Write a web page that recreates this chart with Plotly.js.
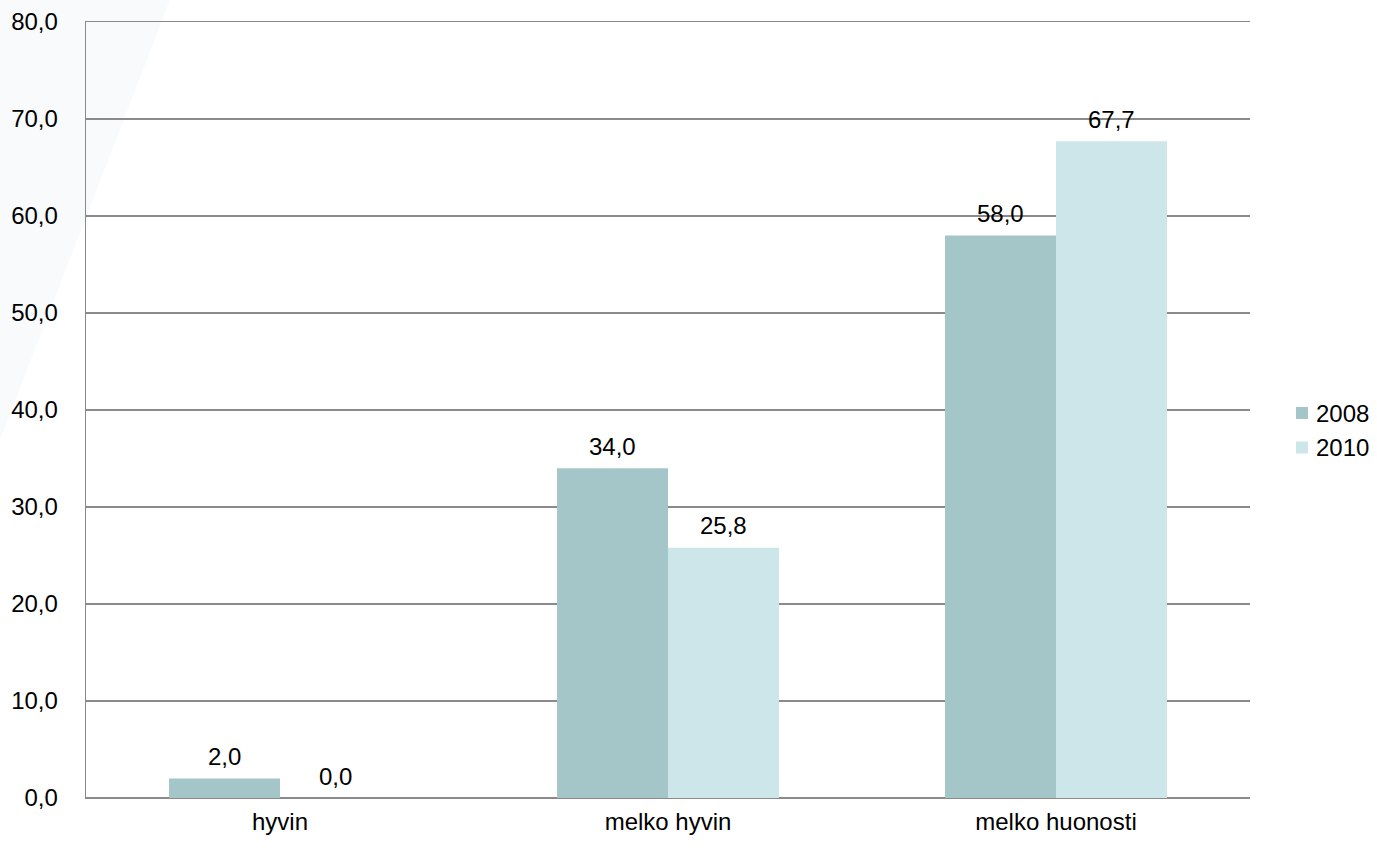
<!DOCTYPE html>
<html>
<head>
<meta charset="utf-8">
<script src="https://cdn.plot.ly/plotly-3.0.1.min.js"></script>
<style>html,body{margin:0;padding:0;background:#fff;}#chart{width:1377px;height:855px;}</style>
</head>
<body>
<div id="chart"></div>
<script>
const categories = ["hyvin", "melko hyvin", "melko huonosti"];
const series2008 = [2.0, 34.0, 58.0];
const series2010 = [0.0, 25.8, 67.7];
const seriesNames = ["2008", "2010"];
const yTicks = [0, 10, 20, 30, 40, 50, 60, 70, 80];

const colors = ["#A5C6C8", "#CCE6EA"];
const font = "Arial, 'Liberation Sans', sans-serif";
const fmt = v => v.toFixed(1).replace('.', ',');

const W = 1377, H = 855, ml = 86, mr = 127, mt = 22, mb = 57;
const pw = W - ml - mr, ph = H - mt - mb;
const px = p => (p - ml) / pw;
const py = p => 1 - (p - mt) / ph;

const traces = [series2008, series2010].map((vals, i) => ({
  type: 'bar',
  name: seriesNames[i],
  x: categories,
  y: vals,
  marker: {color: colors[i]},
  showlegend: false,
  hoverinfo: 'none'
}));

const barHalf = pw / categories.length * (1 - 0.428) / 4;
const annotations = [];
[series2008, series2010].forEach((vals, i) => {
  vals.forEach((v, j) => {
    annotations.push({
      x: categories[j], y: v, xref: 'x', yref: 'y',
      text: fmt(v), showarrow: false,
      xshift: (i === 0 ? -1 : 1) * barHalf,
      yshift: 22, yanchor: 'middle',
      font: {family: font, size: 24, color: '#000'}
    });
  });
});

// legend drawn manually (symbol squares + labels)
const shapes = [{
  type: 'path', xref: 'paper', yref: 'paper', layer: 'below',
  path: `M ${px(0)} ${py(0)} L ${px(170)} ${py(0)} L ${px(0)} ${py(440)} Z`,
  fillcolor: 'rgba(232,237,245,0.3)', line: {width: 0}
}];
const legendTop = 413, legendStep = 34.5;
seriesNames.forEach((name, i) => {
  const cy = legendTop + i * legendStep;
  shapes.push({
    type: 'rect', xref: 'paper', yref: 'paper',
    x0: px(1296), x1: px(1308), y0: py(cy - 6), y1: py(cy + 6),
    fillcolor: colors[i], line: {width: 0}
  });
  annotations.push({
    xref: 'paper', yref: 'paper', x: px(1314), y: py(cy),
    xanchor: 'left', yanchor: 'middle', showarrow: false,
    text: name, font: {family: font, size: 24, color: '#000'}
  });
});

const layout = {
  width: W, height: H,
  margin: {l: ml, r: mr, t: mt, b: mb, pad: 0, autoexpand: false},
  paper_bgcolor: '#fff', plot_bgcolor: 'rgba(0,0,0,0)',
  separators: ', ',
  showlegend: false,
  barmode: 'group', bargap: 0.428, bargroupgap: 0,
  font: {family: font, size: 24, color: '#000'},
  xaxis: {
    type: 'category', showgrid: false, zeroline: false,
    showline: true, mirror: true, linecolor: '#8a8a8a', linewidth: 1.3,
    ticks: '', ticklabelstandoff: 2,
    tickfont: {family: font, size: 24, color: '#000'}
  },
  yaxis: {
    range: [0, 80], tickvals: yTicks, ticktext: yTicks.map(fmt),
    showgrid: true, gridcolor: '#8a8a8a', gridwidth: 1.3,
    zeroline: true, zerolinecolor: '#8a8a8a', zerolinewidth: 1.3,
    showline: true, linecolor: '#8a8a8a', linewidth: 1.3,
    ticks: '', ticklabelstandoff: 22,
    tickfont: {family: font, size: 24, color: '#000'}
  },
  annotations: annotations,
  shapes: shapes
};

Plotly.newPlot('chart', traces, layout, {displayModeBar: false, staticPlot: true});
</script>
</body>
</html>
